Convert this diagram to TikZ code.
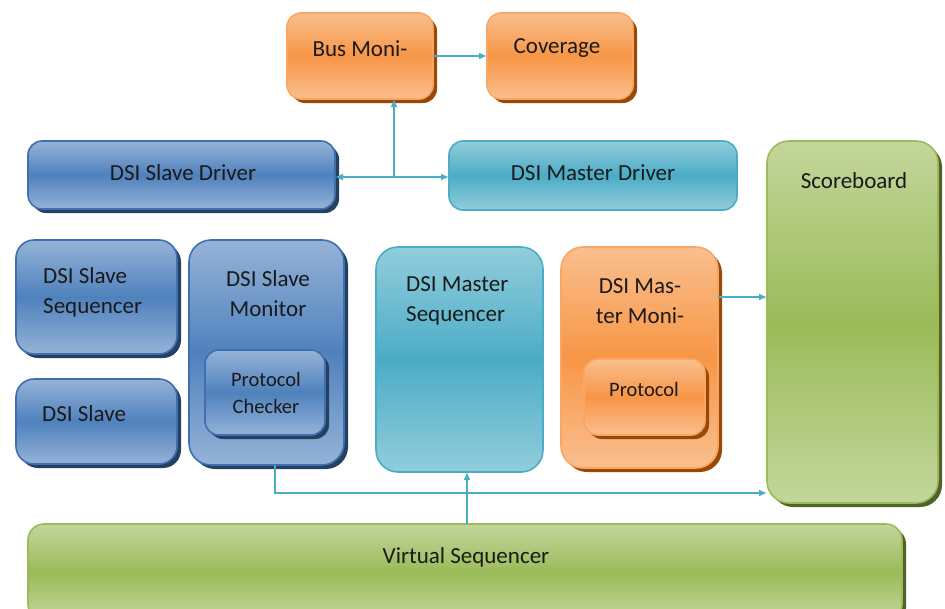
\documentclass[tikz,border=0pt]{standalone}
\usepackage{fontspec}
\setmainfont{Carlito}
\usetikzlibrary{shadows,arrows.meta}
\definecolor{orM}{HTML}{F79646}
\definecolor{orL}{HTML}{FABF8F}
\definecolor{orD}{HTML}{984807}
\definecolor{blM}{HTML}{4F81BD}
\definecolor{blL}{HTML}{95B3D7}
\definecolor{blD}{HTML}{254061}
\definecolor{blB}{HTML}{3F6FAE}
\definecolor{tlM}{HTML}{4BACC6}
\definecolor{tlL}{HTML}{92CDDC}
\definecolor{grM}{HTML}{9BBB59}
\definecolor{grL}{HTML}{C3D69B}
\definecolor{grD}{HTML}{4F6228}
\definecolor{arc}{HTML}{4BACC6}
\definecolor{txt}{HTML}{1A1A1A}
\tikzset{
  boxbase/.style={inner sep=0pt, outer sep=0pt, rounded corners=14pt, line width=1.6pt},
  obox/.style={boxbase, draw=orM!85!white, top color=orL, bottom color=orL, middle color=orM,
     drop shadow={shadow xshift=4pt, shadow yshift=-4pt, fill=orD, opacity=1}},
  bbox/.style={boxbase, draw=blB, top color=blL, bottom color=blL, middle color=blM,
     drop shadow={shadow xshift=4pt, shadow yshift=-4pt, fill=blD, opacity=1}},
  tbox/.style={boxbase, draw=tlM, top color=tlL, bottom color=tlL, middle color=tlM},
  gbox/.style={boxbase, draw=grM, top color=grL, bottom color=grL, middle color=grM,
     drop shadow={shadow xshift=4pt, shadow yshift=-4pt, fill=grD, opacity=1}},
  lbl/.style={inner sep=0pt, text=txt, font=\fontsize{23}{30}\selectfont},
  slbl/.style={inner sep=0pt, text=txt, font=\fontsize{20.5}{27}\selectfont},
  arr/.style={draw=arc, line width=2.2pt, -{Latex[length=8pt,width=7pt]}},
  dbl/.style={draw=arc, line width=2.2pt, {Latex[length=8pt,width=7pt]}-{Latex[length=8pt,width=7pt]}}
}
\begin{document}
\begin{tikzpicture}[x=1pt,y=-1pt]
\useasboundingbox (0,0) rectangle (945,608);
\clip (0,0) rectangle (945,608);
% boxes
\node[obox, minimum width=146pt, minimum height=86pt] (busmon) at (360,56) {};
\node[obox, minimum width=146pt, minimum height=86pt] (cov) at (560,56) {};
\node[bbox, minimum width=307pt, minimum height=68pt] (sdrv) at (181.5,175) {};
\node[tbox, minimum width=288pt, minimum height=69pt] (mdrv) at (593,175.5) {};
\node[gbox, rounded corners=22pt, minimum width=171pt, minimum height=362pt] (sb) at (852.5,322) {};
\node[bbox, rounded corners=18pt, minimum width=161pt, minimum height=114pt] (sseq) at (96.5,297) {};
\node[bbox, rounded corners=18pt, minimum width=161pt, minimum height=85pt] (sslv) at (96.5,421.5) {};
\node[bbox, rounded corners=22pt, minimum width=155pt, minimum height=225pt] (smon) at (266.5,352.5) {};
\node[bbox, minimum width=120pt, minimum height=85pt] (pchk) at (265,392.5) {};
\node[tbox, rounded corners=22pt, minimum width=167pt, minimum height=225pt] (mseq) at (459.5,359.5) {};
\node[obox, rounded corners=22pt, minimum width=157pt, minimum height=221pt] (mmon) at (639.5,357.5) {};
\node[obox, minimum width=121pt, minimum height=76pt] (prot) at (644.5,397) {};
\node[gbox, rounded corners=16pt, minimum width=874pt, minimum height=96pt] (vseq) at (465,572) {};
% texts
\node[lbl] (t1) at (360,48.5) {Bus Moni-};
\node[lbl] (t2) at (557,48.5) {Coverage};
\node[lbl] (t3) at (183,172.5) {DSI Slave Driver};
\node[lbl] (t4) at (593,172.5) {DSI Master Driver};
\node[lbl] (t5) at (854,180.5) {Scoreboard};
\node[lbl, anchor=west, align=left] (t6) at (43,292.5) {DSI Slave\\Sequencer};
\node[lbl, anchor=west] (t7) at (42,413.5) {DSI Slave};
\node[lbl, align=center] (t8) at (268,294) {DSI Slave\\Monitor};
\node[slbl, align=center] (t9) at (266,393) {Protocol\\Checker};
\node[lbl, anchor=west, align=left] (t10) at (406,301) {DSI Master\\Sequencer};
\node[lbl, align=center] (t11) at (640,301) {DSI Mas-\\ter Moni-};
\node[slbl] (t12) at (644,389) {Protocol};
\node[lbl] (t13) at (466,557.5) {Virtual Sequencer};
% connectors
\coordinate (j) at (394,177);
\coordinate (c1) at (722,297);
\coordinate (c2) at (275,493);
\coordinate (c3) at (467,500);
\draw[arr] (busmon.east) -- (cov.west);
\draw[arr] (j) -- (busmon.south -| j);
\draw[dbl] (sdrv.east |- j) -- (mdrv.west |- j);
\draw[arr] (mmon.east |- c1) -- (sb.west |- c1);
\draw[arr] (smon.south -| c2) |- (sb.west |- c2);
\draw[arr] (vseq.north -| c3) -- (mseq.south -| c3);
\end{tikzpicture}
\end{document}
